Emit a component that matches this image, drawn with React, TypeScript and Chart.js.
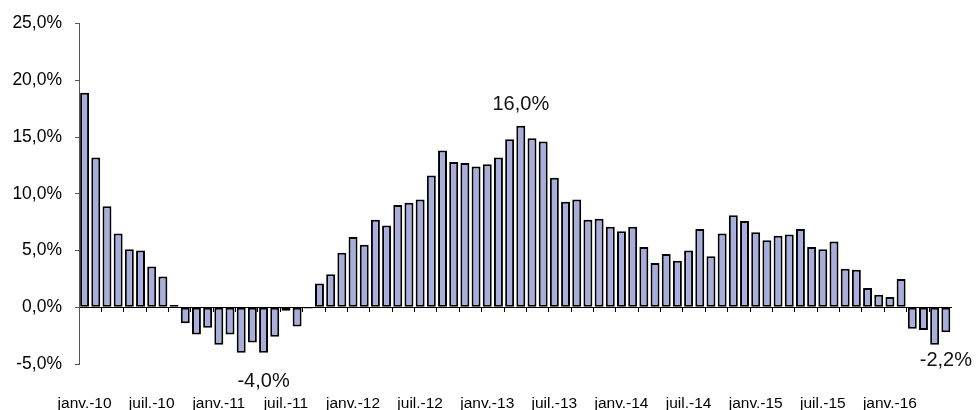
import React, { useEffect, useRef } from "react";
import { Chart, registerables } from "chart.js";

Chart.register(...registerables);

const MONTHS = ["janv.", "févr.", "mars", "avr.", "mai", "juin", "juil.", "août", "sept.", "oct.", "nov.", "déc."];
const YEARS = ["10", "11", "12", "13", "14", "15", "16"];

const VALUES = [
  18.9, 13.2, 8.9, 6.5, 5.1, 5.0, 3.6, 2.7, 0.2, -1.4, -2.4, -1.8,
  -3.3, -2.4, -4.0, -3.1, -4.0, -2.6, -0.3, -1.7, -0.1, 2.1, 2.9, 4.8,
  6.2, 5.5, 7.7, 7.2, 9.0, 9.2, 9.5, 11.6, 13.8, 12.8, 12.7, 12.4,
  12.6, 13.2, 14.8, 16.0, 14.9, 14.6, 11.4, 9.3, 9.5, 7.7, 7.8, 7.1,
  6.7, 7.1, 5.3, 3.9, 4.7, 4.1, 5.0, 6.9, 4.5, 6.5, 8.1, 7.6,
  6.6, 5.9, 6.3, 6.4, 6.9, 5.3, 5.1, 5.8, 3.4, 3.3, 1.7, 1.1,
  0.9, 2.5, -1.9, -2.0, -3.3, -2.2,
];

const CATEGORIES = YEARS.flatMap((y) => MONTHS.map((m) => `${m}-${y}`)).slice(0, VALUES.length);

// Months whose value is written on the chart
const LABELLED = ["mai-11", "avr.-13", "juin-16"];

const Y_MIN = -5;
const Y_MAX = 25;
const Y_STEP = 5;

const FONT = '"Liberation Sans", Arial, sans-serif';

const fmt = (v: number) => v.toFixed(1).replace(".", ",") + "%";

const valueLabels = {
  id: "valueLabels",
  afterDatasetsDraw(chart: any) {
    const meta = chart.getDatasetMeta(0);
    const ctx = chart.ctx;
    ctx.save();
    ctx.font = `20px ${FONT}`;
    ctx.fillStyle = "#111";
    ctx.textAlign = "center";
    ctx.textBaseline = "alphabetic";
    LABELLED.forEach((cat) => {
      const i = CATEGORIES.indexOf(cat);
      if (i < 0) return;
      const el = meta.data[i];
      const v = VALUES[i];
      const y = v >= 0 ? el.y - 16 : el.y + 34;
      ctx.fillText(fmt(v), el.x, y);
    });
    ctx.restore();
  },
};

export default function App() {
  const ref = useRef<HTMLCanvasElement | null>(null);

  useEffect(() => {
    if (!ref.current) return;
    const chart = new Chart(ref.current, {
      type: "bar",
      data: {
        labels: CATEGORIES,
        datasets: [
          {
            data: VALUES,
            backgroundColor: "#A8AEDB",
            borderColor: "#000000",
            borderWidth: 2,
            borderSkipped: false,
            categoryPercentage: 1,
            barPercentage: 0.8,
            xAxisID: "x",
            yAxisID: "y",
          },
        ],
      },
      options: {
        animation: false,
        responsive: true,
        maintainAspectRatio: false,
        layout: { padding: { top: 20, right: 24, left: 0, bottom: 0 } },
        plugins: {
          legend: { display: false },
          tooltip: { enabled: false },
        },
        scales: {
          x: {
            type: "category",
            position: "bottom",
            offset: true,
            grid: { display: false, drawTicks: false },
            border: { display: false },
            ticks: {
              autoSkip: false,
              maxRotation: 0,
              minRotation: 0,
              padding: 30,
              color: "#000",
              font: { family: FONT, size: 15.5 },
              callback: (_v: any, i: number) => (i % 6 === 0 ? CATEGORIES[i] : ""),
            },
            afterFit: (s: any) => {
              s.height = 46;
            },
          },
          x2: {
            type: "category",
            labels: CATEGORIES,
            position: { y: 0 } as any,
            offset: true,
            ticks: { display: false },
            grid: {
              drawOnChartArea: false,
              drawTicks: true,
              tickLength: 4,
              color: (c: any) => (typeof c.index === "number" && c.index % 2 === 0 ? "#000" : "rgba(0,0,0,0)"),
            },
            border: { display: true, color: "#000", width: 1 },
          },
          y: {
            type: "linear",
            min: Y_MIN,
            max: Y_MAX,
            grid: {
              drawOnChartArea: false,
              drawTicks: true,
              tickLength: 4,
              color: "#555",
            },
            border: { display: true, color: "#555", width: 1 },
            ticks: {
              stepSize: Y_STEP,
              padding: 13,
              color: "#000",
              font: { family: FONT, size: 17.5 },
              callback: (v: any) => fmt(Number(v)),
            },
            afterFit: (s: any) => {
              s.width = 79;
            },
          },
        },
      },
      plugins: [valueLabels],
    });
    return () => chart.destroy();
  }, []);

  return (
    <div style={{ position: "fixed", left: 0, top: 0, width: 976, height: 410, background: "#fff" }}>
      <canvas ref={ref} />
    </div>
  );
}
